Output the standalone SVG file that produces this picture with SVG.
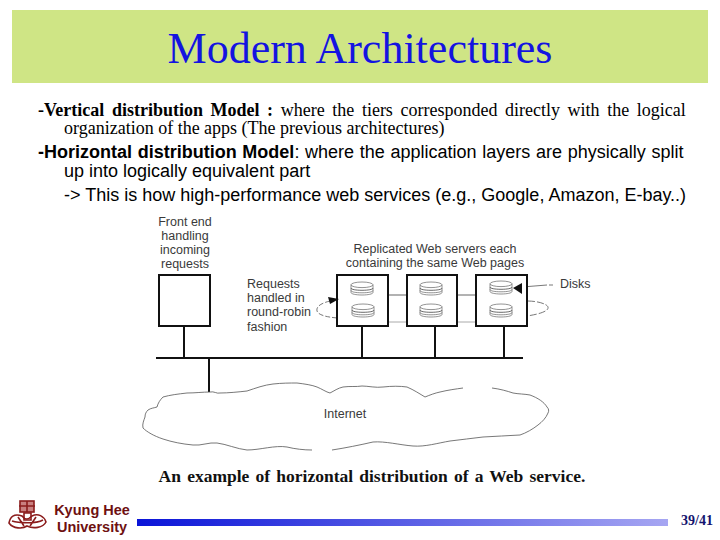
<svg xmlns="http://www.w3.org/2000/svg" width="720" height="540" viewBox="0 0 720 540">
<defs>
<linearGradient id="barGrad" x1="0" y1="0" x2="1" y2="0"><stop offset="0" stop-color="#0a14d8"/><stop offset="1" stop-color="#a6a6f2"/></linearGradient>
<g id="disk"><g fill="none" stroke="#777" stroke-width="0.800"><ellipse cx="11" cy="2.800" rx="11" ry="2.800"/><path d="M0 2.800V10.500C0 12 5 13 11 13S22 12 22 10.500V2.800"/><path d="M0 6C0 7.500 5 8.300 11 8.300S22 7.500 22 6" stroke="#444"/><path d="M0 8.500C0 10 5 10.800 11 10.800S22 10 22 8.500"/></g></g>
</defs>
<style>
.serif{font-family:"Liberation Serif","Times New Roman",serif}
.sans{font-family:"Liberation Sans",Arial,sans-serif}
.lab{font-family:"Liberation Sans",Arial,sans-serif;font-size:12.500px;fill:#3a3a3a}
.box{fill:#fff;stroke:#111;stroke-width:2}
.wire{stroke:#111;stroke-width:2;fill:none}
.dash{stroke:#555;stroke-width:0.800;fill:none}
</style>
<rect width="720" height="540" fill="#fff"/>
<g id="header"><rect x="12" y="10" width="696" height="73" fill="#cfe585"/>
<text x="360" y="63" text-anchor="middle" class="serif" font-size="44" fill="#1414e0">Modern Architectures</text></g>
<g id="body-text">
<text x="38" y="116" class="serif" font-size="18" fill="#000" word-spacing="3.100"><tspan font-weight="bold">-Vertical distribution Model :</tspan> where the tiers corresponded directly with the logical</text>
<text x="64" y="134" class="serif" font-size="18" fill="#000">organization of the apps (The previous architectures)</text>
<text x="38" y="158" class="sans" font-size="18" fill="#000" word-spacing="0.700"><tspan font-weight="bold">-Horizontal distribution Model</tspan>: where the application layers are physically split</text>
<text x="64" y="177" class="sans" font-size="18" fill="#000">up into logically equivalent part</text>
<text x="64" y="201" class="sans" font-size="18" fill="#000">-&gt; This is how high-performance web services (e.g., Google, Amazon, E-bay..)</text>
</g>
<g id="connectors">
<path class="wire" d="M156 358H523M184 326V358M362 326V358M435 326V358M504 326V358M209 358V392"/>
<path d="M388 295H407" stroke="#999" stroke-width="1.500" fill="none"/>
<path d="M457 295H476" stroke="#666" stroke-width="1" fill="none"/>
<path d="M388 322H476" stroke="#aaa" stroke-width="1" fill="none"/>
<path class="dash" stroke-dasharray="5 2" d="M330 301C322 303 316 306 317 311C319 317 335 318 350 319C362 320 375 321 388 322"/>
<path class="dash" stroke-dasharray="7 2" d="M476 321C495 319 512 318 527 316C540 314 549 311 548 307C547 304 538 301 527 301"/>
<path d="M522 287L547 285M549 285H553" stroke="#555" stroke-width="0.800" fill="none"/>
</g>
<g id="front-end"><rect class="box" x="159" y="275" width="51" height="51"/>
<text class="lab" text-anchor="middle" x="185" y="226">Front end</text><text class="lab" text-anchor="middle" x="185" y="240">handling</text><text class="lab" text-anchor="middle" x="185" y="254">incoming</text><text class="lab" text-anchor="middle" x="185" y="268">requests</text></g>
<g id="server-1"><rect class="box" x="337" y="275" width="51" height="51"/><use href="#disk" x="351" y="282"/><use href="#disk" x="352" y="304"/></g>
<g id="server-2"><rect class="box" x="407" y="275" width="50" height="51"/><use href="#disk" x="420" y="282"/><use href="#disk" x="420" y="304"/></g>
<g id="server-3"><rect class="box" x="476" y="275" width="51" height="51"/><use href="#disk" x="490" y="281"/><use href="#disk" x="490" y="304"/></g>
<g id="arrows"><path d="M328 297L339 299L330 304Z" fill="#111"/><path d="M513 288L522 283V294Z" fill="#111"/></g>
<g id="labels">
<text class="lab" text-anchor="middle" x="435" y="253">Replicated Web servers each</text>
<text class="lab" text-anchor="middle" x="435" y="267">containing the same Web pages</text>
<text class="lab" x="247" y="288">Requests</text><text class="lab" x="247" y="302">handled in</text><text class="lab" x="247" y="316">round-robin</text><text class="lab" x="247" y="331">fashion</text>
<text class="lab" x="560" y="288">Disks</text>
</g>
<g id="internet"><path d="M210 392C214 391 217 394 220 393C228 393 238 392 247 391C256 388 264 385 273 384C282 383 290 383 297 383C305 384 312 385 317 387C322 389 326 392 330 393C334 391 338 388 343 387C350 386 356 387 362 386C368 386 376 388 383 387C392 386 400 386 407 387C414 390 420 394 425 397C430 395 435 393 440 392C448 390 456 389 463 388M492 388C500 389 507 391 513 393C518 394 525 394 530 395C538 398 544 402 547 407C549 409 549 411 548 413C546 418 542 422 538 425C533 429 526 433 520 435C508 436 495 436 483 437C472 438 461 440 450 441C438 443 425 447 413 446C400 445 385 441 373 442C360 445 345 448 332 450M312 450C304 450 295 449 287 447C275 445 260 450 247 450C237 449 226 444 217 443C209 442 201 446 193 445C182 444 172 442 163 439C154 436 147 432 143 428C142 424 144 420 145 417C145 414 146 412 148 410C151 408 154 408 157 407C158 403 160 400 163 397C170 395 178 394 187 393C195 393 203 392 210 392" fill="none" stroke="#555" stroke-width="0.800"/>
<text class="lab" text-anchor="middle" x="345" y="418">Internet</text></g>
<text id="caption" x="372" y="482" text-anchor="middle" class="serif" font-size="17.500" font-weight="bold" fill="#111" word-spacing="1.800">An example of horizontal distribution of a Web service.</text>
<g id="footer">
<g id="logo" fill="none" stroke="#8b1c1c" stroke-width="1.600">
<rect x="20" y="501" width="14" height="11" fill="#c98080"/><path d="M19 506H35M27 501V512M22 516C14 513 10 517 9 523C13 529 23 529 27 526C33 529 43 528 46 522C44 516 38 513 32 516C28 520 25 520 22 516Z"/><path d="M12 521C18 523 36 524 43 520M18 517L24 526M36 517L30 526M24 513H31V520H24Z"/></g>
<text x="92" y="515" text-anchor="middle" class="sans" font-size="14.500" font-weight="bold" fill="#6e1010">Kyung Hee</text>
<text x="92" y="532" text-anchor="middle" class="sans" font-size="14.500" font-weight="bold" fill="#6e1010">University</text>
<rect x="137" y="519" width="531" height="7" fill="url(#barGrad)"/>
<text x="697" y="525" text-anchor="middle" class="serif" font-size="14" font-weight="bold" fill="#14146e">39/41</text>
</g>
</svg>
